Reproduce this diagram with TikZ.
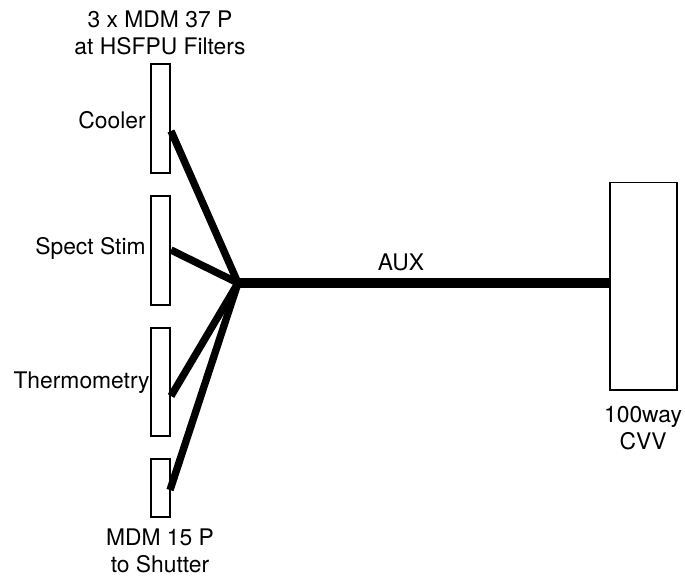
\documentclass[tikz,border=0pt]{standalone}
\usepackage{fontspec}
\setmainfont{TeX Gyre Heros}
\begin{document}
\begin{tikzpicture}[x=0.02cm, y=-0.02cm,
  every node/.style={font=\fontsize{13}{15.4}\selectfont, inner sep=0pt},
  conn/.style={draw, line width=0.6pt, fill=white, minimum width=0.38cm},
  cable/.style={line width=4.2pt},
  auxcable/.style={line width=5.8pt}]
\useasboundingbox (0,0) rectangle (685,576);

% Connectors
\node[conn, minimum height=2.18cm] (cooler) at (160.5,118.5) {};
\node[conn, minimum height=2.18cm] (spect) at (160.5,250.5) {};
\node[conn, minimum height=2.16cm] (thermo) at (160.5,382) {};
\node[conn, minimum height=1.16cm] (shutter) at (160.5,488) {};
\node[draw, line width=0.6pt, minimum width=1.34cm, minimum height=4.16cm] (cvv) at (643.5,286) {};

% Labels
\node[align=center] (toplbl) at (160,33) {3 x MDM 37 P\\at HSFPU Filters};
\node[anchor=east] (coolerlbl) at (146,120) {Cooler};
\node[anchor=east] (spectlbl) at (146,248) {Spect Stim};
\node[anchor=east] (thermolbl) at (150,383) {Thermometry};
\node[align=center] (shutterlbl) at (160,551) {MDM 15 P\\to Shutter};
\node (auxlbl) at (401,262) {AUX};
\node[align=center] (cvvlbl) at (643,428) {100way\\CVV};

% Cable ends
\coordinate (hub) at (238,283);
\coordinate (coolerend) at (171,131);
\coordinate (spectend) at (171,250);
\coordinate (thermoend) at (171,396);
\coordinate (shutterend) at (170,490);
\coordinate (cvvend) at (hub -| cvv.west);

\draw[cable] (coolerend) -- (hub);
\draw[cable] (spectend) -- (hub);
\draw[cable] (thermoend) -- (hub);
\draw[cable] (shutterend) -- (hub);
\draw[auxcable] (hub) -- (cvvend);
\end{tikzpicture}
\end{document}
